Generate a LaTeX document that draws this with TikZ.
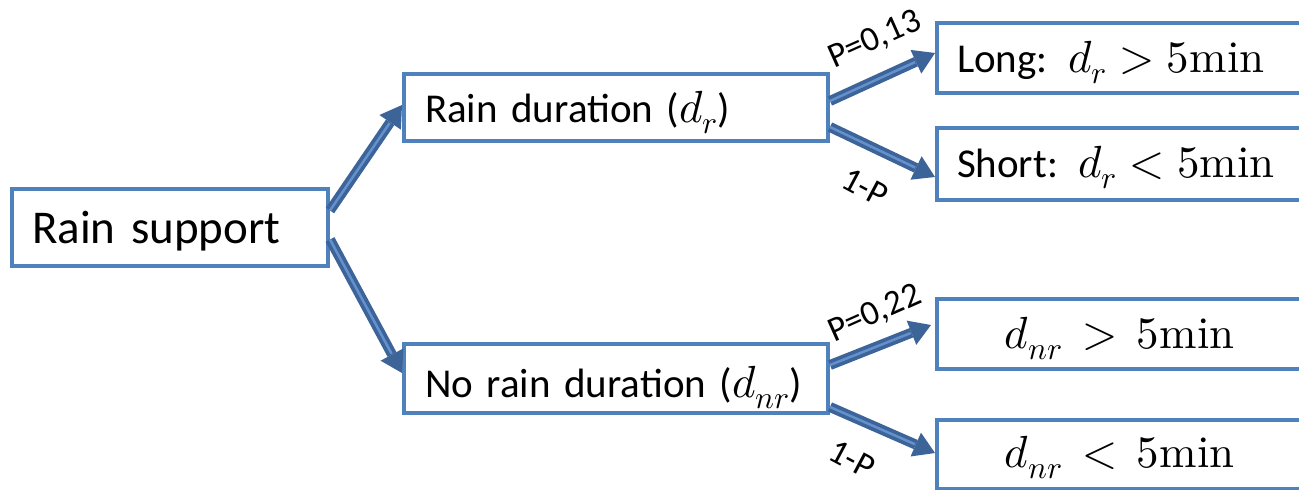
\documentclass[tikz,border=0pt]{standalone}
\usepackage{fontspec}
\usepackage{unicode-math}
\setmainfont{Carlito}
\setmathfont{Latin Modern Math}
\usetikzlibrary{arrows.meta}
\definecolor{boxblue}{RGB}{79,129,189}
\definecolor{arrdark}{RGB}{60,100,152}
\definecolor{arrlight}{RGB}{100,145,205}
\newcommand{\mymath}[1]{{\fontsize{45}{45}\selectfont$#1$}}
\begin{document}
\begin{tikzpicture}[x=1pt,y=-1pt,
  box/.style={draw=boxblue, line width=4pt, rectangle, inner ysep=0pt, text depth=0pt},
  flow/.style={draw=arrdark, line width=10pt,
    -{Triangle[length=21pt,width=26pt,line width=0pt]},
    postaction={draw=arrlight, line width=2.5pt, -, shorten >=22pt}},
  lbl/.style={font=\fontsize{35}{35}\selectfont, inner sep=0pt},
  rtext/.style={font=\fontsize{41}{41}\selectfont}]
\useasboundingbox (0,0) rectangle (1299,490);
\clip (0,0) rectangle (1299,490);

\node[box, font=\fontsize{47}{47}\selectfont, inner xsep=20pt, text width=276pt, align=left,
  minimum height=77pt, text height=31pt] (rs) at (170,227.5) {Rain support};
\node[box, font=\fontsize{41}{41}\selectfont, inner xsep=21pt, text width=382pt, align=left,
  minimum height=67pt, text height=29pt] (rd) at (616,107.5) {Rain duration (\mymath{d_r})};
\node[box, font=\fontsize{41}{41}\selectfont, inner xsep=21pt, text width=382pt, align=left,
  minimum height=69pt, text height=37pt] (nr) at (616,378.5) {No rain duration (\mymath{d_{nr}})};

\node[box, rtext, inner xsep=20pt, text width=326pt, align=left,
  minimum height=70.5pt, text height=28.5pt] (long) at (1120,57.75) {Long: \mymath{d_r > 5\symup{min}}};
\node[box, rtext, inner xsep=20pt, text width=326pt, align=left,
  minimum height=71.5pt, text height=26.5pt] (short) at (1120,163.75) {Short: \mymath{d_r < 5\symup{min}}};
\node[box, rtext, inner xsep=20pt, text width=326pt, align=center,
  minimum height=70.5pt, text height=28pt] (ngt) at (1120,334) {\mymath{d_{nr} > 5\symup{min}}};
\node[box, rtext, inner xsep=20pt, text width=326pt, align=center,
  minimum height=69pt, text height=25pt] (nlt) at (1120,454.5) {\mymath{d_{nr} < 5\symup{min}}};

\draw[flow] ([yshift=17pt]rs.east) -- ([yshift=2.5pt]rd.west);
\draw[flow] ([yshift=-12pt]rs.east) -- ([yshift=5.5pt]nr.west);
\draw[flow] ([yshift=6.5pt]rd.east) -- ([yshift=4.75pt]long.west);
\draw[flow] ([yshift=-19.5pt]rd.east) -- ([yshift=-13.25pt]short.west);
\draw[flow] ([yshift=13.5pt]nr.east) -- ([xshift=-4pt,yshift=9pt]ngt.west);
\draw[flow] ([yshift=-28.5pt]nr.east) -- ([yshift=1.5pt]nlt.west);

\node[lbl, rotate=24] (p1) at (875,40) {P=0,13};
\node[lbl, rotate=-28] (q1) at (865,187) {1-P};
\node[lbl, rotate=24] (p2) at (875,314) {P=0,22};
\node[lbl, rotate=-28] (q2) at (852,459) {1-P};
\end{tikzpicture}
\end{document}
